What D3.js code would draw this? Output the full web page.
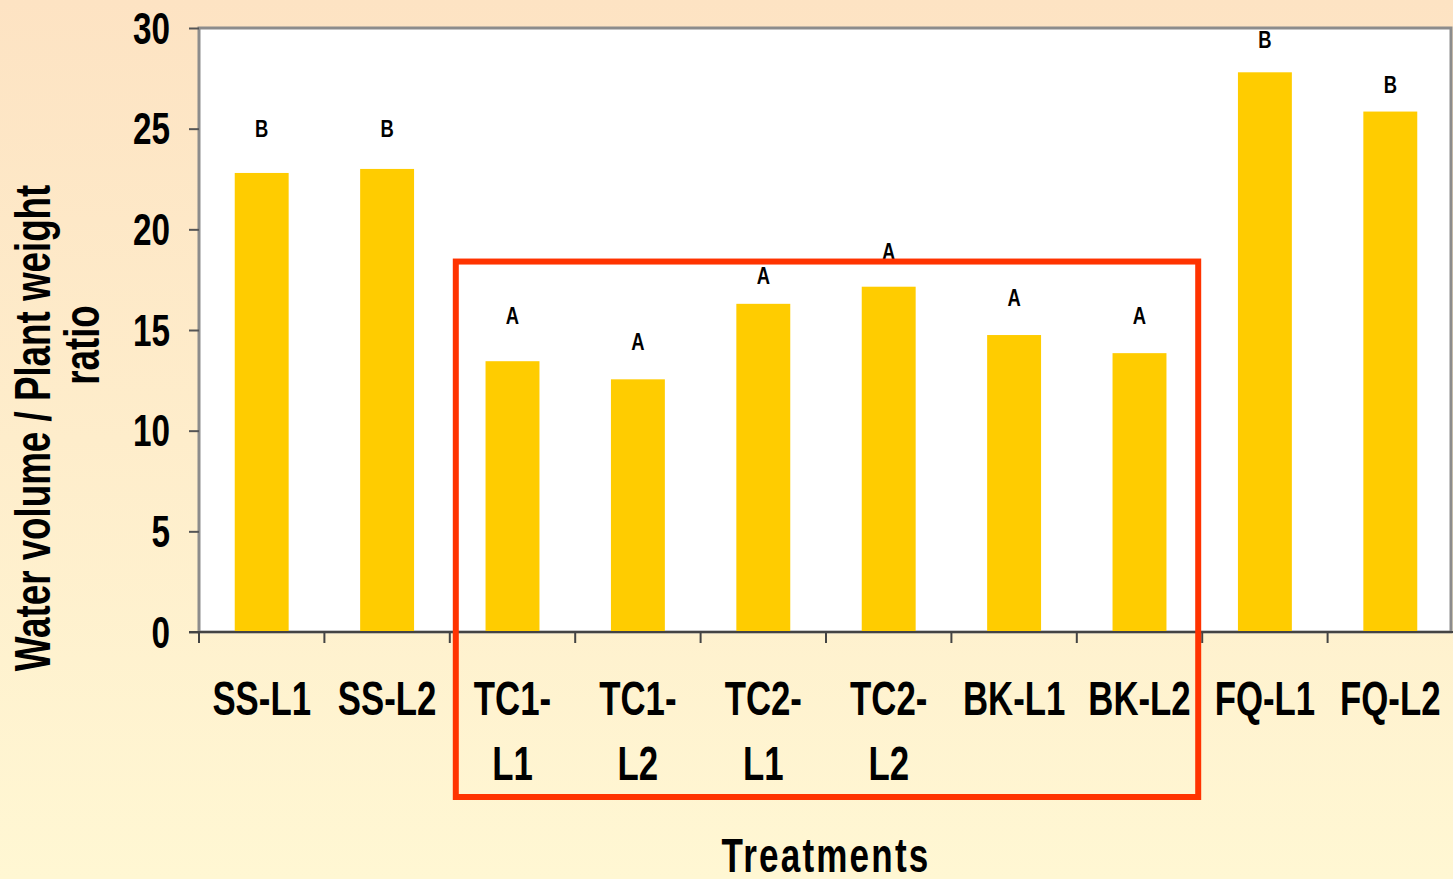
<!DOCTYPE html>
<html>
<head>
<meta charset="utf-8">
<script src="https://cdn.jsdelivr.net/npm/d3@7"></script>
<style>
  html, body { margin: 0; padding: 0; }
  body { width: 1453px; height: 879px; overflow: hidden; }
  text { font-family: "Liberation Sans", Arial, sans-serif; font-weight: bold; fill: #000; }
</style>
</head>
<body>
<svg width="1453" height="879"></svg>
<script>
var categories = ["SS-L1", "SS-L2", "TC1-L1", "TC1-L2", "TC2-L1", "TC2-L2", "BK-L1", "BK-L2", "FQ-L1", "FQ-L2"];
var tickLines = [["SS-L1"], ["SS-L2"], ["TC1-", "L1"], ["TC1-", "L2"], ["TC2-", "L1"], ["TC2-", "L2"], ["BK-L1"], ["BK-L2"], ["FQ-L1"], ["FQ-L2"]];
var ratios = [22.8, 23.0, 13.45, 12.55, 16.3, 17.15, 14.75, 13.85, 27.8, 25.85];
var letters = ["B", "B", "A", "A", "A", "A", "A", "A", "B", "B"];
var letterAt = [25.0, 25.0, 15.7, 14.4, 17.7, 18.9, 16.6, 15.7, 29.4, 27.2];
var yTicks = [0, 5, 10, 15, 20, 25, 30];
var boxed = ["TC1-L1", "BK-L2"];   // red box around these treatments
var boxTop = 18.4;

var svg = d3.select("svg"),
    width = +svg.attr("width"),
    height = +svg.attr("height");

var margin = {top: 28, left: 199, right: 0, bottom: 247};
var narrow = 0.71; // fonts in the original are a narrow face

// background gradient
var defs = svg.append("defs");
var grad = defs.append("linearGradient")
    .attr("id", "bg")
    .attr("x1", 0).attr("y1", 0).attr("x2", 0).attr("y2", 1);
grad.append("stop").attr("offset", "0%").attr("stop-color", "#fde3c3");
grad.append("stop").attr("offset", "100%").attr("stop-color", "#fff7d3");

svg.append("rect")
    .attr("width", width)
    .attr("height", height)
    .attr("fill", "url(#bg)");

var x = d3.scaleBand()
    .domain(categories)
    .range([margin.left, width - margin.right]);

var y = d3.scaleLinear()
    .domain([0, 30])
    .range([height - margin.bottom, margin.top]);

var barW = x.bandwidth() * 0.43;

// plot area
svg.append("rect")
    .attr("x", margin.left)
    .attr("y", y(30))
    .attr("width", width - margin.left - 2)
    .attr("height", y(0) - y(30))
    .attr("fill", "#fff")
    .attr("stroke", "#8c8c8c")
    .attr("stroke-width", 3);

// bars
svg.append("g")
  .selectAll("rect")
  .data(categories)
  .enter().append("rect")
    .attr("x", function(d) { return x(d) + x.bandwidth() / 2 - barW / 2; })
    .attr("y", function(d, i) { return y(ratios[i]); })
    .attr("width", barW)
    .attr("height", function(d, i) { return y(0) - y(ratios[i]); })
    .attr("fill", "#ffcc00");

// significance letters
svg.append("g")
  .selectAll("text")
  .data(categories)
  .enter().append("text")
    .attr("transform", function(d, i) {
        return "translate(" + (x(d) + x.bandwidth() / 2) + "," + y(letterAt[i]) + ") scale(0.8,1)";
    })
    .attr("dy", "0.36em")
    .attr("text-anchor", "middle")
    .style("font-size", "23px")
    .text(function(d, i) { return letters[i]; });

// y axis
var yAxis = svg.append("g")
    .attr("transform", "translate(" + margin.left + ",0)")
    .call(d3.axisLeft(y).tickValues(yTicks).tickSize(10));
yAxis.select(".domain").remove();
yAxis.selectAll(".tick line").attr("stroke", "#555").attr("stroke-width", 2);
yAxis.selectAll(".tick text")
    .attr("x", 0)
    .attr("transform", "translate(-29,0) scale(0.74,1)")
    .attr("dy", "0.34em")
    .attr("fill", "#000")
    .style("font-size", "45px")
    .style("font-family", "'Liberation Sans', Arial, sans-serif")
    .style("font-weight", "bold");

// x axis
var xAxis = svg.append("g")
    .attr("transform", "translate(0," + y(0) + ")");
xAxis.append("line")
    .attr("x1", margin.left - 10)
    .attr("x2", width)
    .attr("stroke", "#444")
    .attr("stroke-width", 2);
xAxis.selectAll(".xt")
  .data(categories)
  .enter().append("line")
    .attr("class", "xt")
    .attr("x1", function(d) { return x(d); })
    .attr("x2", function(d) { return x(d); })
    .attr("y1", 0)
    .attr("y2", 11)
    .attr("stroke", "#444")
    .attr("stroke-width", 2);

var lbl = xAxis.selectAll(".xl")
  .data(categories)
  .enter().append("text")
    .attr("class", "xl")
    .attr("text-anchor", "middle")
    .attr("transform", function(d) {
        return "translate(" + (x(d) + x.bandwidth() / 2) + ",0) scale(" + narrow + ",1)";
    })
    .style("font-size", "49px");
lbl.selectAll("tspan")
  .data(function(d, i) { return tickLines[i]; })
  .enter().append("tspan")
    .attr("x", 0)
    .attr("y", function(d, j) { return 83 + j * 65; })
    .text(function(d) { return d; });

// red box around the TC / BK treatments
svg.append("rect")
    .attr("x", x(boxed[0]) + 6)
    .attr("y", y(boxTop))
    .attr("width", x(boxed[1]) + x.bandwidth() - x(boxed[0]) - 10)
    .attr("height", 797 - y(boxTop))
    .attr("fill", "none")
    .attr("stroke", "#ff3300")
    .attr("stroke-width", 6);

// axis titles
svg.append("text")
    .attr("transform", "translate(" + (margin.left + width) / 2 + ",872) scale(0.73,1)")
    .attr("text-anchor", "middle")
    .style("font-size", "48px")
    .style("letter-spacing", "3px")
    .text("Treatments");

svg.append("text")
    .attr("transform", "translate(50,428) rotate(-90) scale(0.75,1)")
    .attr("text-anchor", "middle")
    .style("font-size", "49px")
    .text("Water volume / Plant weight");
svg.append("text")
    .attr("transform", "translate(99,345) rotate(-90) scale(0.75,1)")
    .attr("text-anchor", "middle")
    .style("font-size", "49px")
    .text("ratio");
</script>
</body>
</html>
